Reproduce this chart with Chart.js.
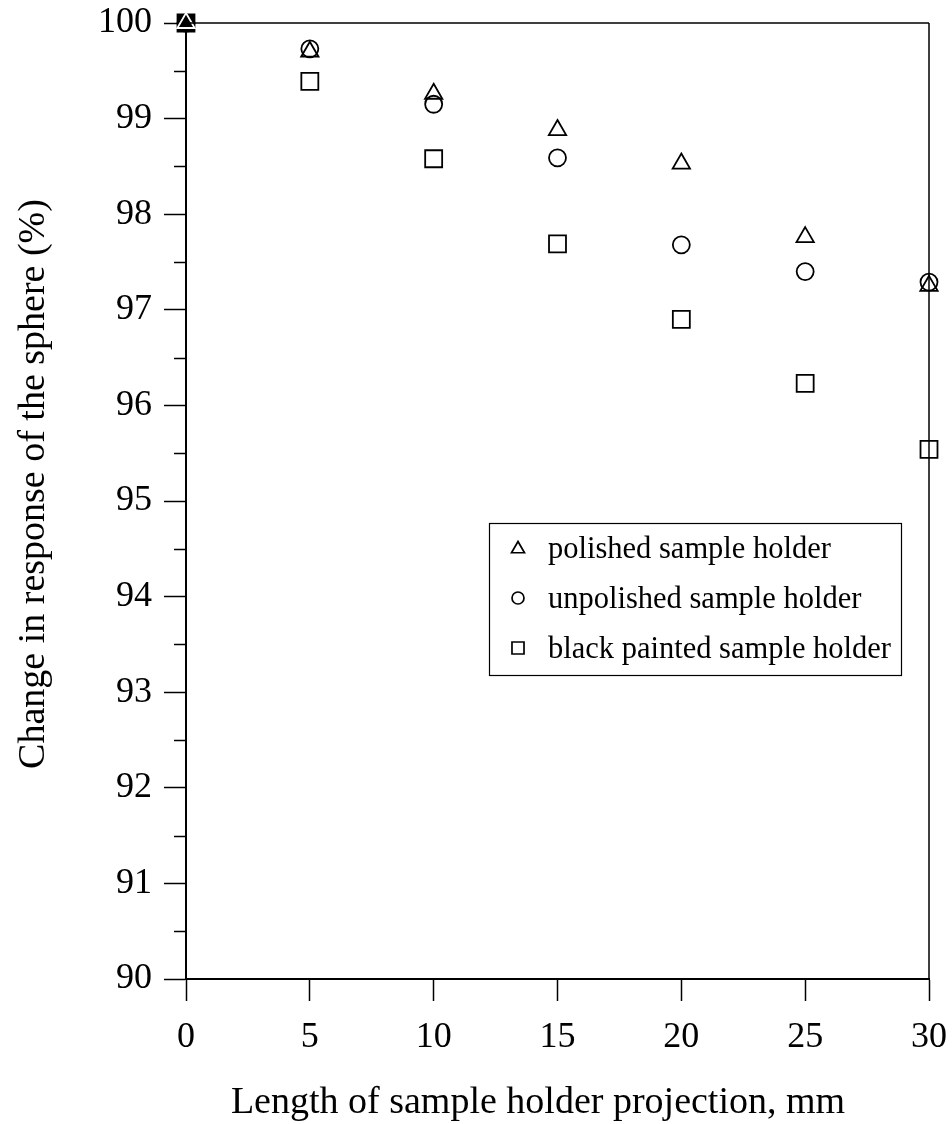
<!DOCTYPE html>
<html>
<head>
<meta charset="utf-8">
<script src="https://cdn.jsdelivr.net/npm/chart.js@4/dist/chart.umd.min.js"></script>
<style>
  html, body { margin: 0; padding: 0; background: #fff; }
  #wrap { width: 952px; height: 1124px; }
</style>
</head>
<body>
<div id="wrap"><canvas id="c" width="952" height="1124"></canvas></div>
<script>
// Sample holder projection length, mm
const projection = [0, 5, 10, 15, 20, 25, 30];
// Change in response of the sphere, %
const polished = [100, 99.70, 99.26, 98.88, 98.53, 97.76, 97.25];
const unpolished = [100, 99.73, 99.15, 98.59, 97.68, 97.40, 97.29];
const blackPainted = [100, 99.39, 98.58, 97.69, 96.90, 96.23, 95.54];

const seriesLabels = ['polished sample holder', 'unpolished sample holder', 'black painted sample holder'];
const xTicks = [0, 5, 10, 15, 20, 25, 30];
const yTicks = [90, 91, 92, 93, 94, 95, 96, 97, 98, 99, 100];
const xTitle = 'Length of sample holder projection, mm';
const yTitle = 'Change in response of the sphere (%)';

const FONT = '"Liberation Serif", "Times New Roman", serif';

function pts(ys) { return projection.map((x, i) => ({ x: x, y: ys[i] })); }

// Minor ticks on the y axis, the top and right frame lines, and the axis titles
const framePlugin = {
  id: 'frame',
  afterDraw(chart) {
    const ctx = chart.ctx, a = chart.chartArea, y = chart.scales.y;
    ctx.save();
    ctx.strokeStyle = '#000';
    ctx.lineWidth = 1.5;
    ctx.beginPath();
    ctx.moveTo(a.left, a.top); ctx.lineTo(a.right, a.top);
    ctx.moveTo(a.right, a.top); ctx.lineTo(a.right, a.bottom);
    ctx.stroke();
    ctx.beginPath();
    for (let v = yTicks[0] + 0.5; v < yTicks[yTicks.length - 1]; v += 1) {
      const p = Math.round(y.getPixelForValue(v)) + 0.5;
      ctx.moveTo(a.left - 12, p); ctx.lineTo(a.left, p);
    }
    ctx.stroke();

    ctx.fillStyle = '#000';
    ctx.font = '38px ' + FONT;
    ctx.textAlign = 'center';
    ctx.textBaseline = 'alphabetic';
    ctx.fillText(xTitle, 538, 1113);
    ctx.translate(44, 484);
    ctx.rotate(-Math.PI / 2);
    ctx.fillText(yTitle, 0, 0);
    ctx.restore();
  }
};

// Legend drawn inside the plot area
const boxLegend = {
  id: 'boxLegend',
  afterDraw(chart) {
    const ctx = chart.ctx;
    const left = 489, top = 523, right = 901, bottom = 675;
    ctx.save();
    ctx.strokeStyle = '#000';
    ctx.lineWidth = 1.2;
    ctx.strokeRect(left + 0.5, top + 0.5, right - left, bottom - top);
    const styles = ['triangle', 'circle', 'rect'];
    const radii = [7.5, 6, 8.5];
    chart.data.datasets.forEach((ds, i) => {
      const cy = 548 + i * 50;
      ctx.strokeStyle = '#000';
      ctx.fillStyle = 'rgba(0,0,0,0)';
      ctx.lineWidth = 1.7;
      Chart.helpers.drawPoint(ctx, { pointStyle: styles[i], radius: radii[i], borderWidth: 1.7, rotation: 0 }, 518, cy + (i === 0 ? 1 : 0));
      ctx.fillStyle = '#000';
      ctx.font = '30.5px ' + FONT;
      ctx.textBaseline = 'middle';
      ctx.textAlign = 'left';
      ctx.fillText(ds.label, 548, cy + 2);
    });
    ctx.restore();
  }
};

new Chart(document.getElementById('c'), {
  type: 'scatter',
  data: {
    datasets: [
      {
        label: seriesLabels[0],
        data: pts(polished),
        pointStyle: 'triangle',
        pointRadius: 10,
        pointBorderWidth: 1.8,
        pointBorderColor: polished.map((v, i) => i === 0 ? '#fff' : '#000'),
        pointBackgroundColor: 'rgba(0,0,0,0)',
        clip: false
      },
      {
        label: seriesLabels[1],
        data: pts(unpolished),
        pointStyle: 'circle',
        pointRadius: 8.5,
        pointBorderWidth: 1.8,
        pointBorderColor: '#000',
        pointBackgroundColor: 'rgba(0,0,0,0)',
        clip: false
      },
      {
        label: seriesLabels[2],
        data: pts(blackPainted),
        pointStyle: 'rect',
        pointRadius: 12,
        pointBorderWidth: 1.8,
        pointBorderColor: '#000',
        pointBackgroundColor: blackPainted.map((v, i) => i === 0 ? '#000' : 'rgba(0,0,0,0)'),
        clip: false
      }
    ]
  },
  options: {
    responsive: false,
    animation: false,
    devicePixelRatio: 1,
    layout: { padding: { top: 23, right: 23, left: 0, bottom: 0 } },
    plugins: {
      legend: { display: false },
      tooltip: { enabled: false }
    },
    scales: {
      x: {
        type: 'linear',
        min: xTicks[0],
        max: xTicks[xTicks.length - 1],
        afterBuildTicks(scale) { scale.ticks = xTicks.map(v => ({ value: v })); },
        ticks: { color: '#000', font: { family: FONT, size: 36 }, padding: 15, maxRotation: 0 },
        grid: { drawOnChartArea: false, drawTicks: true, tickLength: 22, tickColor: '#000', tickWidth: 1.5 },
        border: { color: '#000', width: 2 },
        afterFit(scale) {
          scale.height = 145;
          scale.paddingLeft = 0;
          scale.paddingRight = 0;
        }
      },
      y: {
        type: 'linear',
        min: yTicks[0],
        max: yTicks[yTicks.length - 1],
        afterBuildTicks(scale) { scale.ticks = yTicks.map(v => ({ value: v })); },
        ticks: { color: '#000', font: { family: FONT, size: 36 }, padding: 12 },
        grid: { drawOnChartArea: false, drawTicks: true, tickLength: 22, tickColor: '#000', tickWidth: 1.5 },
        border: { color: '#000', width: 2 },
        afterFit(scale) {
          scale.width = 186;
          scale.paddingTop = 0;
          scale.paddingBottom = 0;
        }
      }
    }
  },
  plugins: [framePlugin, boxLegend]
});
</script>
</body>
</html>
